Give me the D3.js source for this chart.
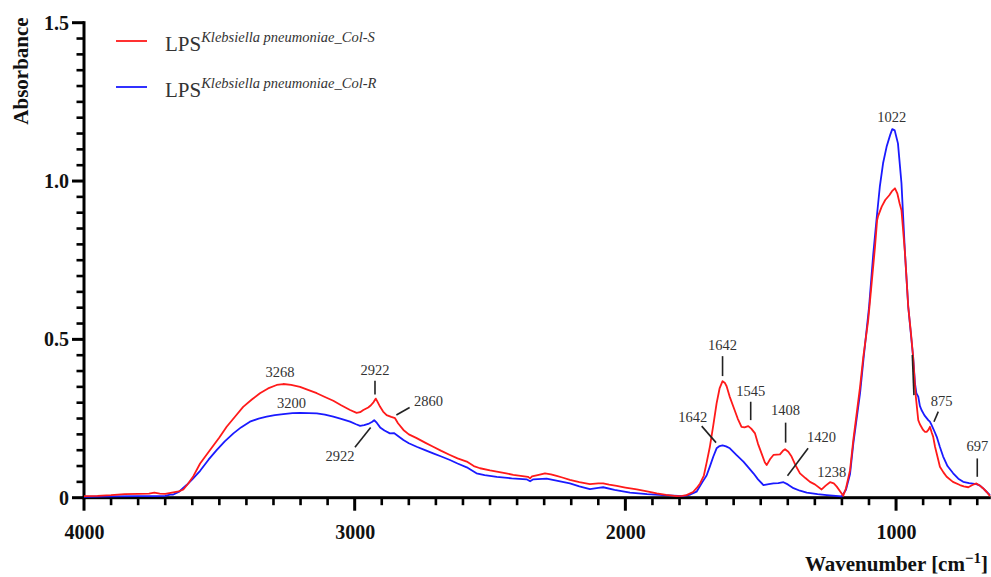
<!DOCTYPE html>
<html><head><meta charset="utf-8">
<script src="https://cdn.jsdelivr.net/npm/d3@7"></script>
<style>body{margin:0;background:#fff}svg{display:block}</style>
</head><body>
<svg id="c" width="991" height="577"></svg>
<script>
// ---- data ----
const seriesNames = ["Klebsiella pneumoniae_Col-S", "Klebsiella pneumoniae_Col-R"];
const xTickLabels = [4000, 3000, 2000, 1000];
const yTickLabels = [0, 0.5, 1.0, 1.5];
const colS = [
[4000,0.005],[3950,0.006],[3900,0.008],[3850,0.011],[3800,0.012],[3760,0.013],[3740,0.016],[3720,0.013],[3700,0.012],[3670,0.017],[3650,0.02],[3633,0.026],[3615,0.045],[3596,0.068],[3571,0.108],[3535,0.15],[3500,0.19],[3473,0.224],[3440,0.258],[3412,0.287],[3380,0.31],[3350,0.33],[3320,0.345],[3288,0.356],[3264,0.359],[3235,0.356],[3202,0.35],[3170,0.34],[3140,0.33],[3110,0.318],[3079,0.306],[3050,0.292],[3017,0.277],[2993,0.268],[2980,0.27],[2968,0.277],[2950,0.285],[2940,0.292],[2930,0.302],[2922,0.313],[2915,0.302],[2906,0.287],[2895,0.272],[2882,0.261],[2865,0.255],[2851,0.251],[2840,0.235],[2820,0.214],[2800,0.2],[2771,0.188],[2740,0.174],[2710,0.161],[2680,0.148],[2648,0.135],[2620,0.124],[2586,0.114],[2560,0.1],[2537,0.093],[2500,0.086],[2475,0.082],[2440,0.077],[2414,0.072],[2380,0.068],[2360,0.066],[2352,0.061],[2345,0.067],[2320,0.072],[2297,0.077],[2275,0.074],[2254,0.069],[2230,0.063],[2205,0.056],[2170,0.049],[2131,0.043],[2100,0.045],[2082,0.045],[2060,0.041],[2032,0.037],[2000,0.032],[1958,0.026],[1920,0.02],[1884,0.014],[1850,0.009],[1811,0.005],[1790,0.006],[1774,0.008],[1750,0.018],[1737,0.03],[1724,0.045],[1710,0.07],[1700,0.11],[1688,0.16],[1675,0.23],[1663,0.298],[1652,0.345],[1641,0.368],[1632,0.362],[1626,0.352],[1615,0.32],[1601,0.287],[1585,0.25],[1571,0.224],[1560,0.222],[1546,0.226],[1535,0.218],[1521,0.203],[1510,0.17],[1497,0.14],[1485,0.112],[1478,0.103],[1465,0.122],[1453,0.135],[1440,0.136],[1429,0.137],[1418,0.148],[1410,0.153],[1398,0.145],[1386,0.13],[1370,0.1],[1355,0.077],[1335,0.062],[1318,0.05],[1300,0.042],[1275,0.026],[1260,0.038],[1244,0.049],[1230,0.045],[1219,0.035],[1205,0.018],[1195,0.006],[1185,0.03],[1170,0.087],[1158,0.182],[1133,0.35],[1121,0.445],[1103,0.56],[1096,0.624],[1078,0.79],[1070,0.876],[1066,0.89],[1053,0.919],[1040,0.94],[1025,0.955],[1015,0.968],[1004,0.977],[995,0.96],[987,0.93],[980,0.908],[967,0.772],[955,0.603],[945,0.52],[937,0.445],[930,0.35],[927,0.319],[918,0.245],[912,0.232],[900,0.214],[893,0.208],[887,0.208],[880,0.215],[875,0.224],[868,0.205],[863,0.193],[856,0.161],[844,0.119],[838,0.098],[825,0.08],[813,0.066],[790,0.05],[764,0.04],[750,0.036],[733,0.033],[718,0.04],[703,0.045],[690,0.038],[679,0.03],[665,0.018],[653,0.005]
];
const colR = [
[4000,0.003],[3900,0.004],[3800,0.005],[3740,0.005],[3700,0.006],[3682,0.01],[3670,0.01],[3650,0.018],[3621,0.04],[3600,0.058],[3571,0.085],[3540,0.12],[3510,0.15],[3480,0.178],[3448,0.203],[3420,0.222],[3387,0.24],[3355,0.25],[3325,0.256],[3295,0.261],[3264,0.264],[3230,0.267],[3202,0.268],[3170,0.267],[3140,0.266],[3110,0.262],[3079,0.256],[3050,0.249],[3017,0.24],[2995,0.232],[2980,0.227],[2965,0.229],[2950,0.233],[2935,0.24],[2928,0.245],[2918,0.236],[2906,0.222],[2890,0.212],[2870,0.203],[2855,0.204],[2845,0.198],[2820,0.182],[2800,0.172],[2771,0.161],[2740,0.15],[2710,0.14],[2680,0.13],[2648,0.119],[2620,0.108],[2586,0.096],[2550,0.077],[2520,0.071],[2475,0.066],[2420,0.061],[2365,0.058],[2352,0.052],[2340,0.058],[2291,0.06],[2250,0.053],[2205,0.045],[2170,0.036],[2131,0.027],[2100,0.031],[2082,0.033],[2040,0.025],[1983,0.016],[1920,0.011],[1860,0.008],[1786,0.005],[1760,0.01],[1737,0.019],[1715,0.05],[1700,0.07],[1688,0.098],[1675,0.13],[1663,0.156],[1652,0.163],[1641,0.165],[1628,0.162],[1614,0.156],[1590,0.135],[1564,0.114],[1545,0.095],[1527,0.077],[1510,0.058],[1490,0.04],[1470,0.043],[1453,0.045],[1435,0.046],[1416,0.049],[1400,0.042],[1379,0.03],[1355,0.022],[1330,0.016],[1290,0.011],[1256,0.008],[1201,0.004],[1185,0.025],[1170,0.075],[1158,0.17],[1133,0.33],[1120,0.44],[1100,0.6],[1084,0.772],[1072,0.88],[1060,0.982],[1048,1.056],[1035,1.108],[1022,1.145],[1014,1.164],[1005,1.16],[993,1.119],[980,0.993],[967,0.772],[955,0.603],[937,0.445],[930,0.36],[925,0.33],[918,0.319],[912,0.29],[906,0.277],[895,0.26],[881,0.245],[875,0.24],[869,0.23],[860,0.213],[850,0.193],[838,0.16],[826,0.13],[810,0.1],[789,0.077],[770,0.06],[752,0.05],[730,0.046],[703,0.043],[690,0.038],[679,0.03],[665,0.018],[653,0.008]
];
// peak labels: [text, label x (wavenumber), label y (absorbance)]
const peakLabels = [
["3268",3276,0.381],["3200",3233,0.283],["2922",2925,0.387],["2860",2727,0.29],["2922",3054,0.116],
["1642",1641,0.466],["1545",1537,0.321],["1408",1408,0.26],["1642",1751,0.239],["1420",1275,0.176],
["1238",1238,0.065],["1022",1016,1.186],["875",832,0.29],["697",700,0.147]
];
// leader lines: [x1, y1, x2, y2] in data units
const leaders = [
[2925,0.369,2925,0.326],[2846,0.261,2797,0.285],[2999,0.159,2941,0.222],
[1641,0.447,1641,0.384],[1537,0.303,1537,0.245],[1408,0.237,1408,0.174],
[1718,0.226,1665,0.174],[1325,0.156,1401,0.069],[844,0.272,860,0.24],[700,0.124,700,0.066],
[940,0.451,934,0.324]
];
const minorXTicks = [3900,3800,3700,3600,3500,3400,3300,3200,3100,2900,2800,2700,2600,2500,2400,2300,2200,2100,1900,1800,1700,1600,1500,1400,1300,1200,1100,900,800,700];
const minorYTicks = [0.05,0.1,0.15,0.2,0.25,0.3,0.35,0.4,0.45,0.55,0.6,0.65,0.7,0.75,0.8,0.85,0.9,0.95,1.05,1.1,1.15,1.2,1.25,1.3,1.35,1.4,1.45];

// ---- chart ----
const svg = d3.select("#c");
const serif = "'Liberation Serif', 'DejaVu Serif', serif";
const x = d3.scaleLinear().domain([4000, 650]).range([84, 990.8]);
const y = d3.scaleLinear().domain([0, 1.5]).range([497.7, 22.7]);
const y0 = y(0), x0 = x(4000);

// tick labels via d3 axes (tick lines drawn as rects below)
const gx = svg.append("g").attr("transform", `translate(0,${y0})`)
  .call(d3.axisBottom(x).tickValues(xTickLabels).tickSize(13).tickSizeOuter(0).tickPadding(14).tickFormat(d3.format("d")));
gx.selectAll("text").attr("font-family", serif).attr("font-size", 20).attr("font-weight","bold").attr("fill","#111");
const gy = svg.append("g").attr("transform", `translate(${x0},0)`)
  .call(d3.axisLeft(y).tickValues(yTickLabels).tickSize(12).tickSizeOuter(0).tickPadding(3)
    .tickFormat(d => d === 0 ? "0" : d3.format(".1f")(d)));
gy.selectAll("text").attr("font-family", serif).attr("font-size", 20).attr("font-weight","bold").attr("fill","#111");
svg.selectAll("path.domain").attr("stroke","none");
svg.selectAll(".tick line").attr("stroke","none");

// tick marks and axis lines as filled rects
const tg = svg.append("g").attr("fill", "#000");
tg.selectAll("rect.mx").data(minorXTicks).join("rect").attr("class","mx")
  .attr("x", d => x(d) - 1.3).attr("width", 2.6).attr("y", y0).attr("height", 7.5);
tg.selectAll("rect.Mx").data(xTickLabels).join("rect").attr("class","Mx")
  .attr("x", d => x(d) - 1.5).attr("width", 3).attr("y", y0).attr("height", 13);
tg.selectAll("rect.my").data(minorYTicks).join("rect").attr("class","my")
  .attr("y", d => y(d) - 1.3).attr("height", 2.6).attr("x", x0 - 7.5).attr("width", 7.5);
tg.selectAll("rect.My").data(yTickLabels).join("rect").attr("class","My")
  .attr("y", d => y(d) - 1.5).attr("height", 3).attr("x", x0 - 12).attr("width", 12);
tg.append("rect").attr("x", x0 - 1.5).attr("width", 3).attr("y", y(1.5) - 1.5).attr("height", y0 - y(1.5) + 3);
tg.append("rect").attr("x", x0 - 1.5).attr("width", x(650) - x0 + 1.5).attr("y", y0 - 1.5).attr("height", 3);

// curves
const line = d3.line().x(d => x(d[0])).y(d => y(d[1]));
svg.append("path").datum(colR).attr("d", line).attr("fill","none").attr("stroke","#1a1aff").attr("stroke-width",1.8).attr("stroke-linejoin","round");
svg.append("path").datum(colS).attr("d", line).attr("fill","none").attr("stroke","#ff1a1a").attr("stroke-width",1.8).attr("stroke-linejoin","round");

// leaders
svg.append("g").selectAll("line").data(leaders).join("line")
  .attr("x1", d => x(d[0])).attr("y1", d => y(d[1]))
  .attr("x2", d => x(d[2])).attr("y2", d => y(d[3]))
  .attr("stroke", "#222").attr("stroke-width", 1.6);

svg.append("g").selectAll("text").data(peakLabels).join("text")
  .attr("x", d => x(d[1])).attr("y", d => y(d[2]))
  .attr("text-anchor","middle").attr("font-family", serif).attr("font-size", 14.5).attr("fill","#333")
  .text(d => d[0]);

// axis titles
svg.append("text").attr("transform","translate(28,71) rotate(-90)").attr("text-anchor","middle")
  .attr("font-family", serif).attr("font-size", 21).attr("font-weight","bold").attr("fill","#111").text("Absorbance");
const xt = svg.append("text").attr("x", 988).attr("y", 571).attr("text-anchor","end")
  .attr("font-family", serif).attr("font-size", 21).attr("font-weight","bold").attr("fill","#111");
xt.append("tspan").text("Wavenumber [cm");
xt.append("tspan").attr("dy", -8).attr("font-size", 15).text("\u22121");
xt.append("tspan").attr("dy", 8).text("]");

// legend
const legColors = ["#ff1a1a", "#1a1aff"];
const leg = svg.append("g").selectAll("g").data(seriesNames).join("g")
  .attr("transform", (d, i) => `translate(0,${41 + i * 46})`);
leg.append("line").attr("x1",116).attr("x2",147).attr("y1",0).attr("y2",0)
  .attr("stroke",(d,i)=>legColors[i]).attr("stroke-width",1.8);
const lt = leg.append("text").attr("x",165).attr("y",10).attr("font-family", serif).attr("fill","#333").attr("font-size", 21);
lt.append("tspan").text("LPS");
lt.append("tspan").attr("dy",-9).attr("font-size",14.5).attr("font-style","italic").text(d => d);
</script>
</body></html>
